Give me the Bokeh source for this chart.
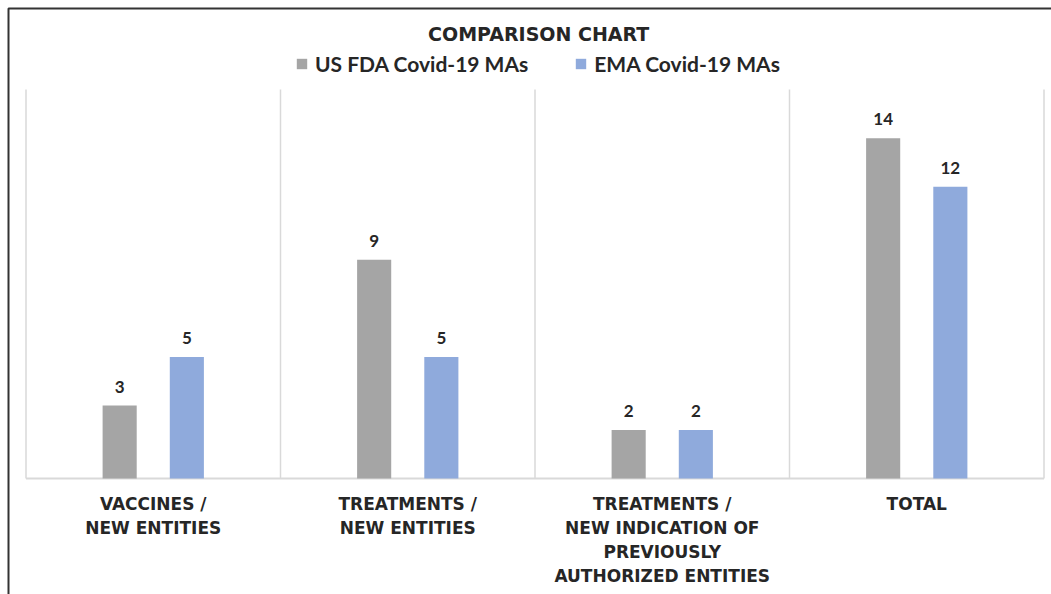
from bokeh.plotting import figure
from bokeh.models import (ColumnDataSource, Range1d, Legend, LegendItem,
                          LabelSet, Label)
from bokeh.core.properties import value
from bokeh.transform import dodge
from bokeh.embed import file_html
from bokeh.resources import INLINE

# ---- data -------------------------------------------------------------
categories = [
    "VACCINES /\nNEW ENTITIES",
    "TREATMENTS /\nNEW ENTITIES",
    "TREATMENTS /\nNEW INDICATION OF\nPREVIOUSLY\nAUTHORIZED ENTITIES",
    "TOTAL",
]
fda_counts = [3, 9, 2, 14]
ema_counts = [5, 5, 2, 12]
series_names = ["US FDA Covid-19 MAs", "EMA Covid-19 MAs"]
series_colors = ["#A5A5A5", "#8FAADC"]
title_text = "COMPARISON  CHART"
y_max = 16

# ---- page geometry (pixels) -------------------------------------------
W, H = 1051, 594
PLOT_LEFT, PLOT_TOP, PLOT_BOTTOM = 25.5, 89, 478
GROUP_PX = 254.5                       # width of one category group
Y_PX = (PLOT_BOTTOM - PLOT_TOP) / y_max
LINE_PX = 24                           # line pitch of the category labels

TEXT = "#262626"
GRID = "#D9D9D9"
BAR_W = 0.134
OFFSET = 0.132


def px_to_x(px):
    return (px - PLOT_LEFT) / GROUP_PX


def px_to_y(py):
    return (PLOT_BOTTOM - py) / Y_PX


n = len(categories)
src = ColumnDataSource(dict(
    center=[i + 0.5 for i in range(n)],
    fda=fda_counts,
    ema=ema_counts,
    fda_label=[str(v) for v in fda_counts],
    ema_label=[str(v) for v in ema_counts],
))

# one row per text line of each category label, so every line is centred
line_x, line_text, line_off = [], [], []
for i, cat in enumerate(categories):
    for j, part in enumerate(cat.split("\n")):
        line_x.append(i + 0.5)
        line_text.append(part)
        line_off.append(-(15 + LINE_PX * j))
label_src = ColumnDataSource(dict(x=line_x, y=[0] * len(line_x),
                                  text=line_text, off=line_off))

# the frame fills the whole canvas, so data ranges are extended past the
# plotting area to leave room for the heading and category labels
x_range = Range1d(px_to_x(0), px_to_x(W))
y_range = Range1d(px_to_y(H), px_to_y(0))

p = figure(
    width=W, height=H, x_range=x_range, y_range=y_range,
    x_axis_type=None, y_axis_type=None, title=None,
    output_backend="svg", toolbar_location=None,
    min_border=0, min_border_left=0, min_border_right=0,
    min_border_top=0, min_border_bottom=0,
    background_fill_color="white", border_fill_color="white",
)
p.outline_line_color = None

# frame lines along the top and left of the chart
p.line(x=[px_to_x(W + 20), px_to_x(8), px_to_x(8)],
       y=[px_to_y(8), px_to_y(8), px_to_y(H + 20)],
       line_color="#333333", line_width=2)

# separators between category groups and the baseline
p.segment(x0=list(range(n + 1)), y0=[0] * (n + 1),
          x1=list(range(n + 1)), y1=[y_max] * (n + 1),
          line_color=GRID, line_width=1.5)
p.segment(x0=[0], y0=[0], x1=[n], y1=[0], line_color=GRID, line_width=2)

# bars
fda_r = p.vbar(x=dodge("center", -OFFSET), top="fda", width=BAR_W,
               source=src, fill_color=series_colors[0], line_color=None)
ema_r = p.vbar(x=dodge("center", OFFSET), top="ema", width=BAR_W,
               source=src, fill_color=series_colors[1], line_color=None)

# value labels above bars
for field, off in (("fda", -OFFSET), ("ema", OFFSET)):
    p.add_layout(LabelSet(
        x=dodge("center", off), y=field, text=field + "_label", source=src,
        y_offset=13, text_align="center", text_baseline="alphabetic",
        text_font=value("Lato"), text_font_style="bold",
        text_font_size="17px", text_color=TEXT,
    ))

# category labels under the baseline
p.add_layout(LabelSet(
    x="x", y="y", text="text", y_offset="off", source=label_src,
    text_align="center", text_baseline="top",
    text_font=value("DejaVu Sans"), text_font_style="bold",
    text_font_size="17px", text_color=TEXT,
))

# heading
p.add_layout(Label(
    x=541.5, y=H - 33, x_units="screen", y_units="screen",
    text=title_text, text_align="center", text_baseline="middle",
    text_font="DejaVu Sans", text_font_style="bold",
    text_font_size="19px", text_color=TEXT,
))

# legend
legend = Legend(
    items=[LegendItem(label=series_names[0], renderers=[fda_r]),
           LegendItem(label=series_names[1], renderers=[ema_r])],
    orientation="horizontal", location=(295, H - 76),
    glyph_width=13, glyph_height=13, label_height=24, label_standoff=7,
    spacing=46, margin=0, padding=0, border_line_color=None,
    background_fill_alpha=0,
    label_text_font="Lato", label_text_font_style="bold",
    label_text_font_size="21px", label_text_color=TEXT,
)
p.add_layout(legend)

open("out.html", "w").write(file_html(p, INLINE))
